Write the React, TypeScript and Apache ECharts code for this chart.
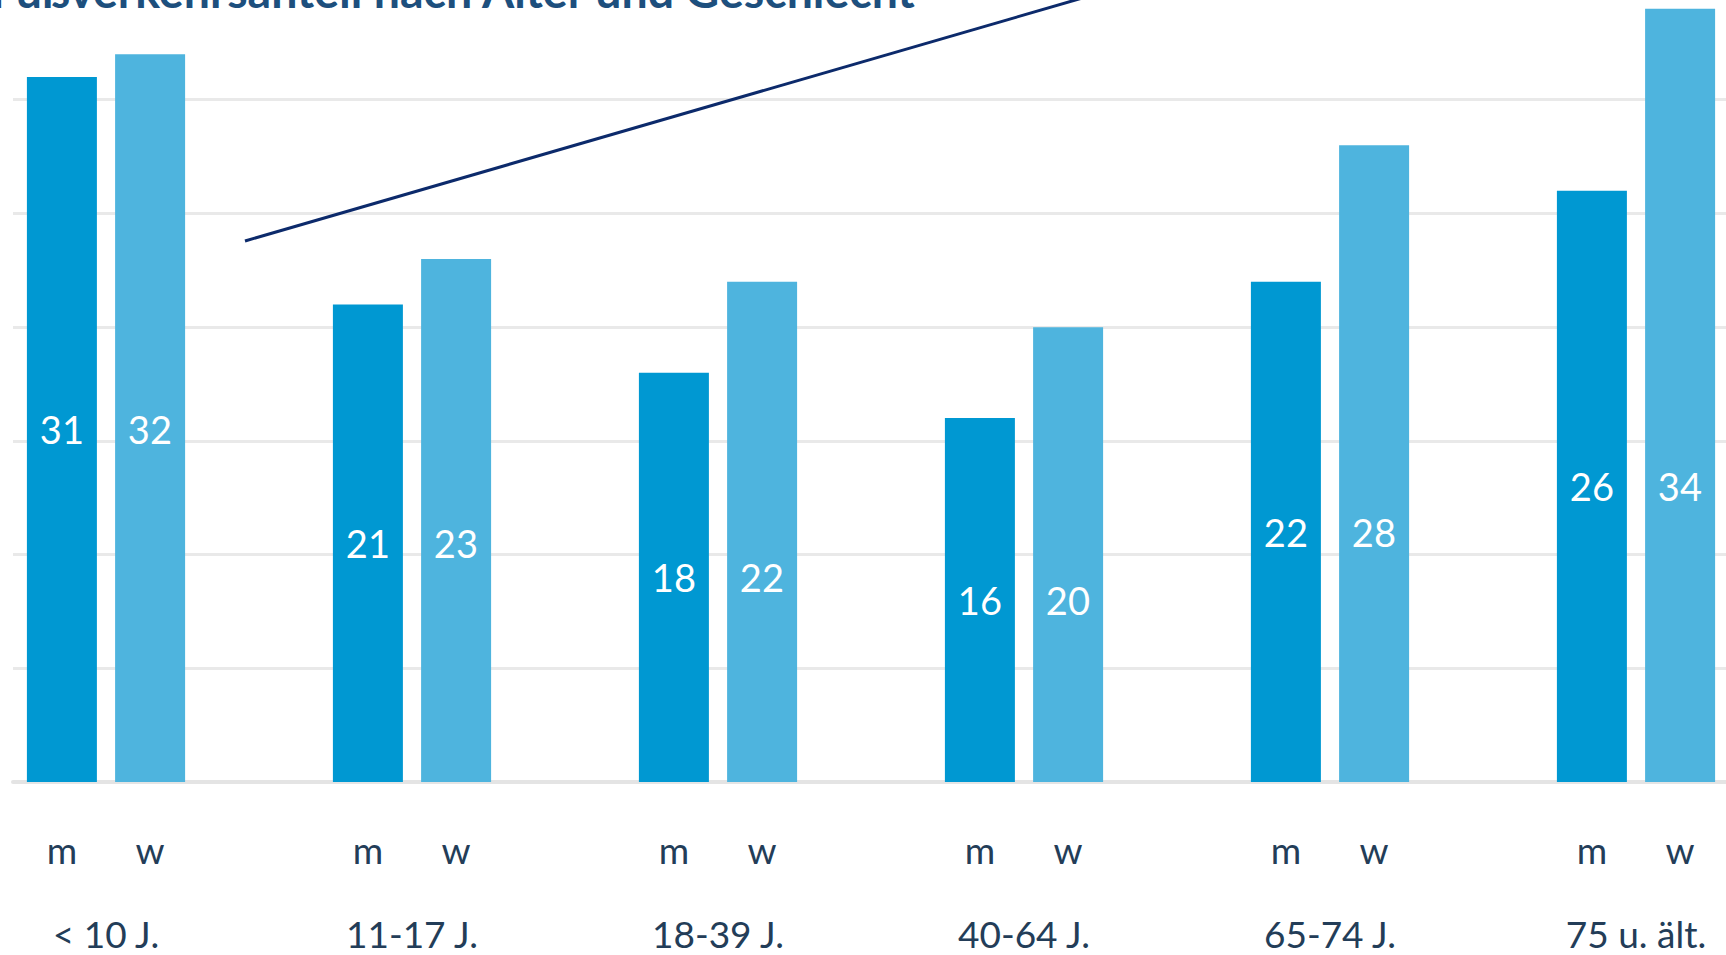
import React, { useEffect, useRef } from "react";
import * as echarts from "echarts";

const title = "Fußverkehrsanteil nach Alter und Geschlecht";
const categories = ["< 10 J.", "11-17 J.", "18-39 J.", "40-64 J.", "65-74 J.", "75 u. ält."];
const maleValues = [31, 21, 18, 16, 22, 26];
const femaleValues = [32, 23, 22, 20, 28, 34];
const genderLabels = ["m", "w"];
const yMin = 0;
const yMax = 35;
const yInterval = 5;

const FONT = "Lato, 'Noto Sans', sans-serif";
const MALE_COLOR = "#0098d2";
const FEMALE_COLOR = "#4eb4de";
const TEXT_COLOR = "#233d58";

export default function App() {
  const ref = useRef<HTMLDivElement>(null);

  useEffect(() => {
    if (!ref.current) return;
    const chart = echarts.init(ref.current, undefined, { renderer: "svg" });
    const gridTop = -14;
    const gridBottom = 173;
    const option: any = {
      animation: false,
      backgroundColor: "#ffffff",
      textStyle: { fontFamily: FONT },
      grid: [
        { left: -47, width: 1836, top: gridTop, bottom: gridBottom, outerBoundsMode: "none", containLabel: false },
        { left: 13, right: 0, top: gridTop, bottom: gridBottom, outerBoundsMode: "none", containLabel: false },
      ],
      xAxis: [
        {
          type: "category",
          gridIndex: 0,
          data: categories,
          axisLine: { show: false },
          axisTick: { show: false },
          axisLabel: {
            margin: 0,
            interval: 0,
            formatter: (v: string) =>
              `{g|${genderLabels[0]}}{g|${genderLabels[1]}}\n{c|${v}}`,
            rich: {
              g: {
                width: 88,
                align: "center",
                fontSize: 37,
                lineHeight: 134,
                color: TEXT_COLOR,
                fontFamily: FONT,
              },
              c: {
                fontSize: 37,
                lineHeight: 34,
                color: TEXT_COLOR,
                fontFamily: FONT,
              },
            },
          },
        },
        {
          type: "category",
          gridIndex: 1,
          data: categories,
          axisLine: { show: true, lineStyle: { color: "#e4e4e4", width: 4 } },
          axisTick: { show: false },
          axisLabel: { show: false },
        },
      ],
      yAxis: [
        {
          type: "value",
          gridIndex: 0,
          min: yMin,
          max: yMax,
          interval: yInterval,
          show: false,
          splitLine: { show: false },
        },
        {
          type: "value",
          gridIndex: 1,
          min: yMin,
          max: yMax,
          interval: yInterval,
          axisLine: { show: false },
          axisTick: { show: false },
          axisLabel: { show: false },
          splitLine: { show: true, lineStyle: { color: "#e9e9e9", width: 3 } },
        },
      ],
      series: [
        {
          name: "m",
          type: "bar",
          xAxisIndex: 0,
          yAxisIndex: 0,
          data: maleValues,
          barWidth: 70,
          barGap: "26%",
          itemStyle: { color: MALE_COLOR },
          label: {
            show: true,
            position: "inside",
            offset: [44, 0],
            formatter: (p: any) => `{v|${maleValues[p.dataIndex]}}{v|${femaleValues[p.dataIndex]}}`,
            rich: {
              v: {
                width: 88,
                align: "center",
                color: "#ffffff",
                fontSize: 38,
                fontFamily: FONT,
              },
            },
          },
        },
        {
          name: "w",
          type: "bar",
          xAxisIndex: 0,
          yAxisIndex: 0,
          data: femaleValues,
          barWidth: 70,
          barGap: "26%",
          itemStyle: { color: FEMALE_COLOR },
          label: { show: false },
        },
      ],
      graphic: [
        {
          type: "text",
          x: -9,
          y: -10,
          z: 10,
          style: {
            text: title,
            fontFamily: FONT,
            fontWeight: "bold",
            fontSize: 46.5,
            fill: "#1d4f7d",
            verticalAlign: "middle",
            align: "left",
          },
        },
        {
          type: "line",
          z: 10,
          shape: { x1: 245, y1: 241, x2: 1110, y2: -10 },
          style: { stroke: "#0c2a6b", lineWidth: 3 },
        },
      ],
    };
    chart.setOption(option);
    return () => chart.dispose();
  }, []);

  return (
    <div
      ref={ref}
      style={{ position: "fixed", left: 0, top: 0, width: 1726, height: 955, background: "#fff" }}
    />
  );
}
